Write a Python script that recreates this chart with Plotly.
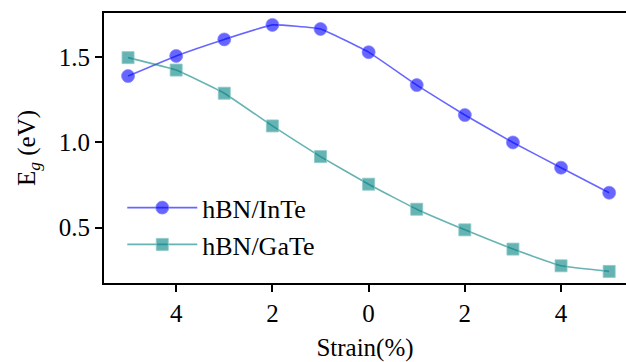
import plotly.graph_objects as go

# Band gap versus biaxial strain for two heterostructures
strain = [-5, -4, -3, -2, -1, 0, 1, 2, 3, 4, 5]
eg_inte = [1.39, 1.508, 1.605, 1.69, 1.666, 1.53, 1.337, 1.161, 1.00, 0.852, 0.705]
eg_gate = [1.498, 1.425, 1.289, 1.097, 0.917, 0.755, 0.608, 0.487, 0.374, 0.276, 0.243]

tick_vals = [-4, -2, 0, 2, 4]
tick_text = ["4", "2", "0", "2", "4"]

FONT = "Liberation Serif"
blue = "rgba(0,0,255,0.6)"
teal = "rgba(0,128,128,0.6)"

fig = go.Figure()
fig.add_trace(go.Scatter(
    x=strain, y=eg_inte, name="hBN/InTe", mode="lines+markers",
    line=dict(color=blue, width=1.6, shape="spline", smoothing=0.3),
    marker=dict(symbol="circle", size=13, color=blue,
                line=dict(color="rgba(130,130,255,0.7)", width=1)),
))
fig.add_trace(go.Scatter(
    x=strain, y=eg_gate, name="hBN/GaTe", mode="lines+markers",
    line=dict(color=teal, width=1.6, shape="spline", smoothing=0.3),
    marker=dict(symbol="square", size=12, color=teal,
                line=dict(color="rgba(140,200,200,0.8)", width=1)),
))

fig.update_layout(
    width=626, height=362,
    margin=dict(l=104, r=0, t=13, b=79),
    paper_bgcolor="white", plot_bgcolor="white",
    font=dict(family=FONT, size=25, color="black"),
    showlegend=True,
    legend=dict(x=0.035, y=0.366, xanchor="left", yanchor="top",
                bgcolor="rgba(0,0,0,0)", font=dict(size=26, family=FONT),
                itemwidth=70, tracegroupgap=0),
)
fig.update_xaxes(
    range=[-5.5, 5.35], tickvals=tick_vals, ticktext=tick_text,
    showline=True, linecolor="black", linewidth=2, mirror=True,
    ticks="outside", ticklen=7, tickwidth=2, tickcolor="black",
    showgrid=False, zeroline=False,
    tickfont=dict(size=25, family=FONT),
    title=dict(text="Strain(%)", font=dict(size=25, family=FONT), standoff=12),
)
fig.update_yaxes(
    range=[0.175, 1.76], tickvals=[0.5, 1.0, 1.5], ticktext=["0.5", "1.0", "1.5"],
    showline=True, linecolor="black", linewidth=2, mirror=False,
    ticks="outside", ticklen=7, tickwidth=2, tickcolor="black",
    showgrid=False, zeroline=False,
    tickfont=dict(size=25, family=FONT),
    title=dict(text="E<sub><i>g</i></sub> (eV)", font=dict(size=25, family=FONT), standoff=16),
)

fig.write_html("out.html")
